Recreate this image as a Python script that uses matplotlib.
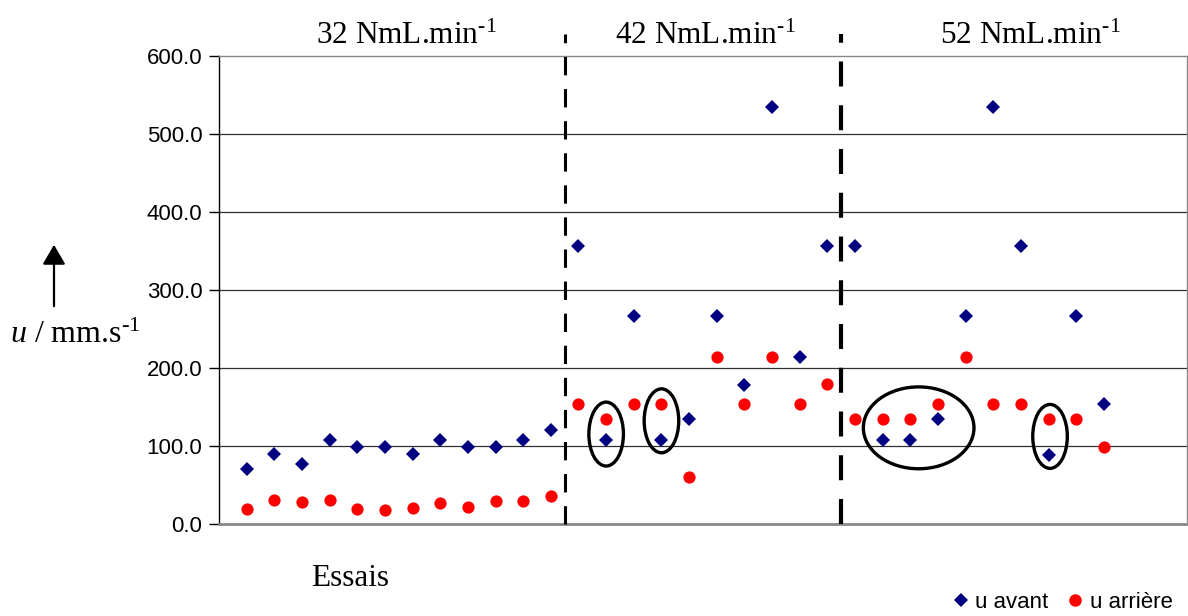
import matplotlib
matplotlib.use('Agg')
import matplotlib.pyplot as plt
from matplotlib.patches import Ellipse
from matplotlib.lines import Line2D

# trial number (Essais)
essais = list(range(1, 33))

# u avant / u arriere, mm.s-1 (3 flow rates)
u_avant = [70, 89, 77, 108, 98, 98, 89, 108, 98, 98, 108, 120,
           356, 108, 266, 108, 134, 266, 178, 534, 214, 356,
           356, 108, 108, 134, 266, 534, 356, 88, 266, 153]
u_arriere = [19, 30, 28, 30, 19, 17, 20, 26, 22, 29, 29, 36,
             154, 134, 154, 154, 60, 214, 154, 214, 154, 179,
             134, 134, 134, 154, 214, 154, 154, 134, 134, 99]

groups = [r'32 NmL.min$^{\text{-1}}$', r'42 NmL.min$^{\text{-1}}$', r'52 NmL.min$^{\text{-1}}$']
group_x = [0.342, 0.594, 0.867]
dividers = [12.5, 22.5]
divider_lw = [2.2, 3.0]

# hand drawn circles: (x centre, y centre, width, height)
circles = [(14.0, 115, 1.25, 82), (16.0, 132, 1.25, 82),
           (25.3, 123, 4.0, 105), (30.05, 112, 1.25, 82)]

plt.rcParams['font.family'] = ['Liberation Sans', 'DejaVu Sans']
plt.rcParams['mathtext.fontset'] = 'custom'
plt.rcParams['mathtext.rm'] = 'Liberation Serif'
plt.rcParams['mathtext.it'] = 'Liberation Serif:italic'

fig = plt.figure(figsize=(11.88, 6.16), dpi=100)
ax = fig.add_axes([0.1843, 0.1498, 0.8148, 0.7594])

ax.set_xlim(0, 35)
ax.set_ylim(0, 600)
ax.set_yticks(range(0, 601, 100))
ax.set_yticklabels(['%.1f' % v for v in range(0, 601, 100)])
ax.set_xticks([])
ax.tick_params(axis='y', direction='out', length=7, width=1, pad=5, labelsize=16)
for y in range(100, 600, 100):
    ax.axhline(y, color='#303030', lw=0.9, zorder=1)

ax.spines['left'].set_color('black')
ax.spines['left'].set_linewidth(1.0)
for s in ['top', 'right']:
    ax.spines[s].set_color('#888888')
    ax.spines[s].set_linewidth(1.0)
ax.spines['bottom'].set_color('#888888')
ax.spines['bottom'].set_linewidth(2.0)

ax.plot(essais, u_avant, linestyle='none', marker='D', ms=7,
        color='#000080', mew=0, zorder=3, label='u avant')
ax.plot(essais, u_arriere, linestyle='none', marker='o', ms=8.8,
        color='#ff0000', mew=0, zorder=3, label='u arrière')

for xd, lw in zip(dividers, divider_lw):
    ax.plot([xd, xd], [0, 628], color='black', lw=lw, clip_on=False,
            dashes=(6, 4.5), solid_capstyle='butt', dash_capstyle='butt', zorder=4)

for cx, cy, w, h in circles:
    ax.add_patch(Ellipse((cx, cy), w, h, fill=False, edgecolor='black', lw=2.4, zorder=5))

for label, gx in zip(groups, group_x):
    fig.text(gx, 1 - 44 / 616, label, ha='center', va='baseline',
             fontsize=22.5, family='Liberation Serif')

fig.text(350 / 1188, 1 - 578 / 616, 'Essais', ha='center', va='center',
         fontsize=22.5, family='Liberation Serif')
fig.text(10 / 1188, 1 - 343 / 616, r'$\mathit{u}$ / mm.s$^{\text{-1}}$', ha='left',
         va='baseline', fontsize=23, family='Liberation Serif')
fig.add_artist(matplotlib.patches.FancyArrowPatch(
    (54 / 1188, 1 - 309 / 616), (54 / 1188, 1 - 242 / 616),
    transform=fig.transFigure, arrowstyle='-|>,head_length=0.6,head_width=0.35',
    mutation_scale=20, color='black', lw=1.6))

handles = [Line2D([], [], linestyle='none', marker='D', ms=7, color='#000080', mew=0),
           Line2D([], [], linestyle='none', marker='o', ms=9, color='#ff0000', mew=0)]
fig.legend(handles, ['u avant', 'u arrière'], loc='lower right',
           bbox_to_anchor=(1.0, -0.02), ncol=2, frameon=False, fontsize=16,
           handlelength=0.6, handletextpad=0.35, columnspacing=0.9, borderpad=0.2)

fig.savefig('out.png', dpi=100)
